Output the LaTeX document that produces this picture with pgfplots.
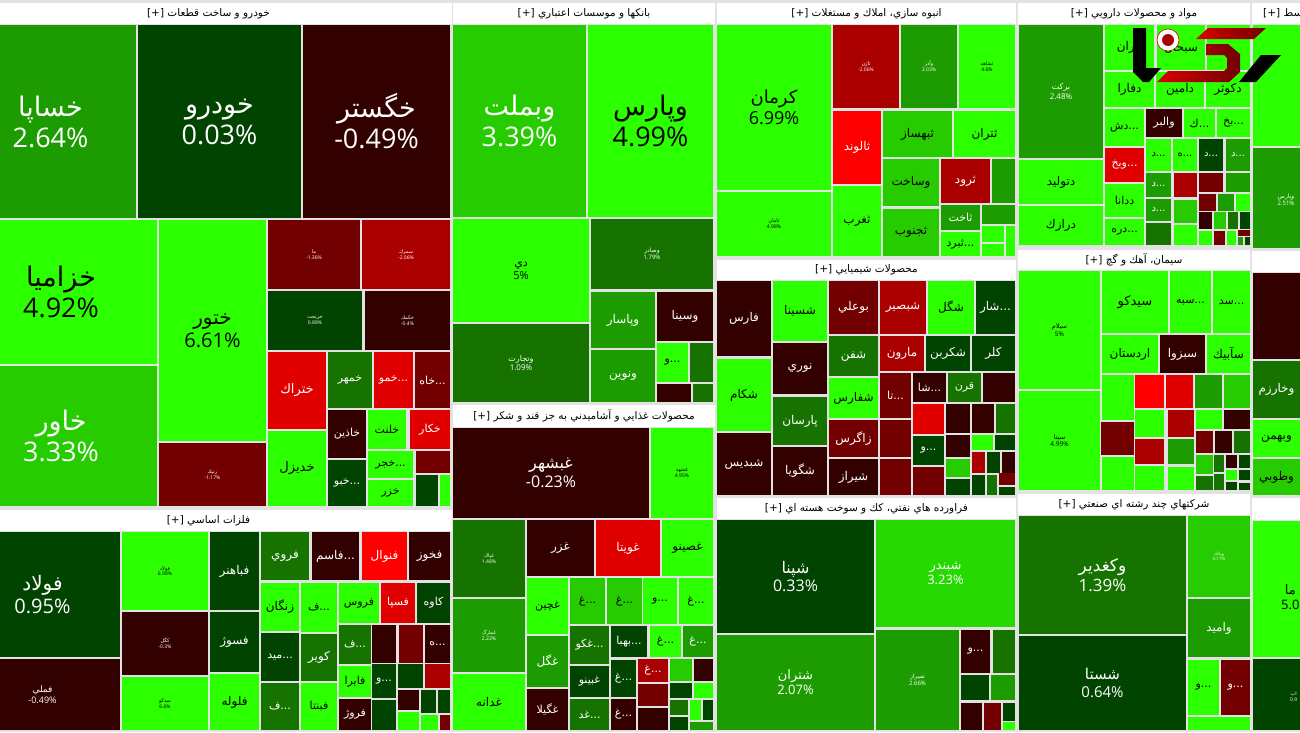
\documentclass[border=0pt]{standalone}
\usepackage{fontspec}
\usepackage{pgfplots}
\pgfplotsset{compat=1.18}
\TeXXeTstate=1
\setmainfont{Open Sans}
\newfontfamily\arabicfont[Script=Arabic]{DejaVu Sans}
\definecolor{ga}{HTML}{2BFF00}
\definecolor{gb}{HTML}{26CC00}
\definecolor{gf}{HTML}{26D900}
\definecolor{gc}{HTML}{1C9C00}
\definecolor{gd}{HTML}{167300}
\definecolor{ge}{HTML}{004400}
\definecolor{r1}{HTML}{330000}
\definecolor{r2}{HTML}{720000}
\definecolor{r3}{HTML}{AA0000}
\definecolor{r4}{HTML}{E00000}
\definecolor{r5}{HTML}{FF0000}
\definecolor{gap}{HTML}{E2E2E2}
\newcommand{\ar}[1]{{\arabicfont\beginR #1\endR}}
% plain cell: x0 y0 x1 y1 colour
\newcommand{\rc}[5]{\addplot[forget plot,fill=#5,draw=none] coordinates {(#1,#2)(#3,#2)(#3,#4)(#1,#4)} -- cycle;}
% cell with label: x0 y0 x1 y1 colour size textcolour text
\newcommand{\rl}[8]{\rc{#1}{#2}{#3}{#4}{#5}
  \node[align=center,inner sep=0pt,text=#7,font=\fontsize{#6}{#6}\selectfont\setlength{\baselineskip}{1.15em}]
    at (axis cs:{(#1+#3)/2},{(#2+#4)/2}) {#8};}
% sector header
\newcommand{\hd}[5]{\rc{#1}{#2}{#3}{#4}{white}
  \node[inner sep=0pt,text=black,font=\fontsize{10.5}{12}\selectfont]
    at (axis cs:{(#1+#3)/2},{(#2+#4)/2}) {{\arabicfont #5}};}
\begin{document}
\begin{tikzpicture}
\begin{axis}[
  scale only axis, width=1300pt, height=732pt,
  xmin=0, xmax=1300, ymin=0, ymax=732, y dir=reverse,
  hide axis, clip=true,
]
\rc{0}{0}{1300}{732}{gap}
% khodro, the left column runs past the edge of the page
\hd{-35}{3}{452}{24}{\beginR خودرو و ساخت قطعات \beginL[+]\endL\endR}
\rl{-35}{25}{136}{218}{gc}{27}{white}{\ar{خساپا}\\2.64\%}
\rl{138}{25}{301}{218}{ge}{27}{white}{\ar{خودرو}\\0.03\%}
\rl{303}{25}{450}{218}{r1}{27}{white}{\ar{خگستر}\\-0.49\%}
\rl{-35}{220}{157}{364}{ga}{27}{black}{\ar{خزاميا}\\4.92\%}
\rl{-35}{366}{157}{506}{gb}{27}{white}{\ar{خاور}\\3.33\%}
\rl{159}{220}{266}{441}{ga}{20}{black}{\ar{ختور}\\6.61\%}
\rl{159}{443}{266}{506}{r2}{5}{white}{\ar{رنيك}\\-1.17\%}
\rl{268}{220}{360}{289}{r2}{5}{white}{\ar{ما}\\-1.36\%}
\rl{362}{220}{450}{289}{r3}{5}{white}{\ar{سمرك}\\-2.06\%}
\rl{268}{291}{362}{350}{ge}{5}{white}{\ar{خريخت}\\0.88\%}
\rl{365}{291}{450}{350}{r1}{5}{white}{\ar{خكمك}\\-0.4\%}
\rl{268}{352}{326}{429}{r4}{13}{white}{\ar{ختراك}}
\rl{328}{352}{372}{408}{gd}{11}{white}{\ar{خمهر}}
\rl{374}{352}{413}{408}{r4}{11}{white}{\ar{...خمو}}
\rl{415}{352}{450}{408}{r2}{11}{white}{\ar{...خاه}}
\rl{268}{431}{326}{506}{ga}{13}{black}{\ar{خديزل}}
\rl{328}{410}{366}{458}{r1}{11}{white}{\ar{خاذين}}
\rl{328}{460}{366}{506}{ge}{11}{white}{\ar{...خبو}}
\rl{368}{410}{406}{449}{ga}{11}{black}{\ar{خلنت}}
\rl{410}{410}{450}{449}{r4}{11}{white}{\ar{خكار}}
\rl{368}{451}{413}{478}{ga}{11}{black}{\ar{...خجر}}
\rc{416}{451}{450}{473}{r2}
\rl{368}{480}{413}{506}{ga}{11}{black}{\ar{خزر}}
\rc{416}{475}{438}{506}{ge}
\rc{440}{475}{450}{506}{ga}
% felezat
\hd{-35}{510}{452}{531}{\beginR فلزات اساسي \beginL[+]\endL\endR}
\rl{-35}{532}{120}{657}{ge}{20}{white}{\ar{فولاد}\\0.95\%}
\rl{-35}{659}{120}{730}{r1}{9}{white}{\ar{فملي}\\-0.49\%}
\rl{122}{532}{208}{610}{ga}{5}{black}{\ar{فولاد}\\6.98\%}
\rl{122}{612}{208}{675}{r1}{5}{white}{\ar{كگل}\\-0.3\%}
\rl{122}{677}{208}{730}{ga}{5}{black}{\ar{ميدكو}\\6.6\%}
\rl{210}{532}{259}{610}{ge}{12}{white}{\ar{فباهنر}}
\rl{210}{612}{259}{672}{ge}{12}{white}{\ar{فسوژ}}
\rl{210}{674}{259}{730}{ga}{12}{black}{\ar{فلوله}}
\rl{261}{532}{309}{580}{gd}{12}{white}{\ar{فروي}}
\rl{312}{532}{359}{580}{r1}{12}{white}{\ar{...فاسم}}
\rl{362}{532}{407}{580}{r5}{12}{white}{\ar{فنوال}}
\rl{409}{532}{450}{580}{r1}{12}{white}{\ar{فخوز}}
\rl{261}{583}{299}{631}{ga}{12}{black}{\ar{زنگان}}
\rl{301}{583}{337}{632}{ga}{11}{black}{\ar{...ف}}
\rl{339}{583}{379}{623}{ga}{11}{black}{\ar{فروس}}
\rl{381}{583}{415}{623}{r4}{11}{white}{\ar{فسپا}}
\rl{417}{583}{450}{623}{ge}{11}{white}{\ar{كاوه}}
\rl{261}{633}{299}{681}{ge}{11}{white}{\ar{...ميد}}
\rl{301}{634}{337}{681}{gd}{12}{white}{\ar{كوير}}
\rl{261}{683}{299}{730}{gd}{11}{white}{\ar{...ف}}
\rl{301}{683}{337}{730}{ga}{11}{black}{\ar{فبنتا}}
\rl{339}{625}{371}{664}{gd}{11}{white}{\ar{...ف}}
\rc{372}{625}{396}{663}{r1}
\rc{399}{625}{423}{663}{r2}
\rl{425}{625}{450}{663}{r1}{11}{white}{\ar{...ه}}
\rl{339}{666}{371}{697}{ga}{11}{black}{\ar{فايرا}}
\rl{372}{664}{396}{698}{ge}{11}{white}{\ar{...و}}
\rc{398}{664}{423}{688}{ge}
\rc{425}{664}{450}{688}{r3}
\rl{339}{699}{371}{730}{r1}{11}{white}{\ar{فروژ}}
\rc{372}{700}{396}{730}{ge}
\rc{398}{690}{419}{710}{r1}
\rc{398}{712}{419}{730}{ga}
\rc{421}{690}{436}{713}{ge}
\rc{438}{690}{450}{713}{ge}
\rc{421}{715}{438}{730}{ga}
\rc{440}{715}{450}{730}{r2}
% banks
\hd{453}{3}{715}{24}{\beginR بانكها و موسسات اعتباري \beginL[+]\endL\endR}
\rl{453}{25}{586}{217}{gb}{27}{white}{\ar{وبملت}\\3.39\%}
\rl{588}{25}{713}{217}{ga}{27}{black}{\ar{وپارس}\\4.99\%}
\rl{453}{219}{589}{322}{ga}{11}{black}{\ar{دي}\\5\%}
\rl{453}{324}{589}{402}{gd}{8}{white}{\ar{وتجارت}\\1.09\%}
\rl{591}{219}{713}{289}{gd}{6}{white}{\ar{وصادر}\\1.79\%}
\rl{591}{292}{655}{348}{gc}{12}{white}{\ar{وپاسار}}
\rl{591}{350}{655}{402}{gc}{12}{white}{\ar{ونوين}}
\rl{657}{292}{713}{341}{r1}{12}{white}{\ar{وسينا}}
\rl{657}{343}{688}{382}{ga}{11}{black}{\ar{...و}}
\rc{690}{343}{713}{382}{gd}
\rc{657}{384}{691}{402}{r1}
\rc{693}{384}{713}{402}{gd}
% ghaza
\hd{453}{405}{715}{427}{\beginR محصولات غذايي و آشاميدني به جز قند و شكر \beginL[+]\endL\endR}
\rl{453}{428}{649}{518}{r1}{16}{white}{\ar{غبشهر}\\-0.23\%}
\rl{651}{428}{713}{518}{ga}{5}{black}{\ar{غشهد}\\4.95\%}
\rl{453}{520}{525}{597}{gd}{5}{white}{\ar{غپاك}\\1.48\%}
\rl{453}{599}{525}{672}{gc}{5}{white}{\ar{غمارگ}\\2.22\%}
\rl{453}{674}{525}{730}{ga}{12}{black}{\ar{غدانه}}
\rl{527}{520}{594}{576}{r1}{12}{white}{\ar{غزر}}
\rl{596}{520}{660}{576}{r4}{12}{white}{\ar{غويتا}}
\rl{662}{520}{713}{576}{ga}{12}{black}{\ar{غصينو}}
\rl{527}{578}{568}{634}{ga}{11}{black}{\ar{غچين}}
\rl{527}{636}{568}{687}{gc}{12}{white}{\ar{غگل}}
\rl{527}{689}{568}{730}{r1}{11}{white}{\ar{غگيلا}}
\rl{570}{578}{605}{624}{gb}{11}{black}{\ar{...غ}}
\rl{607}{578}{642}{624}{gb}{11}{black}{\ar{...غ}}
\rl{643}{578}{677}{624}{ga}{11}{black}{\ar{...و}}
\rl{679}{578}{713}{624}{ga}{11}{black}{\ar{...غ}}
\rl{570}{626}{609}{664}{gd}{11}{white}{\ar{...غكو}}
\rl{611}{626}{647}{657}{ge}{11}{white}{\ar{...بهبا}}
\rl{650}{626}{681}{657}{ga}{11}{black}{\ar{...غ}}
\rl{683}{626}{713}{657}{gc}{11}{white}{\ar{...غ}}
\rl{570}{666}{609}{697}{ge}{11}{white}{\ar{غبينو}}
\rl{570}{699}{609}{730}{gd}{11}{white}{\ar{...غد}}
\rl{611}{660}{636}{697}{ge}{11}{white}{\ar{...غ}}
\rl{611}{699}{636}{730}{r1}{11}{white}{\ar{...غ}}
\rl{638}{659}{668}{682}{r3}{11}{white}{\ar{...غ}}
\rc{638}{684}{668}{706}{r2}
\rc{638}{708}{668}{730}{r1}
\rc{670}{659}{692}{681}{gb}
\rc{694}{659}{713}{681}{r1}
\rc{670}{683}{692}{698}{ge}
\rc{694}{683}{713}{698}{ga}
\rc{670}{700}{688}{715}{gd}
\rc{670}{717}{688}{730}{ge}
\rc{690}{700}{701}{720}{ga}
\rc{703}{700}{713}{720}{ge}
\rc{690}{722}{713}{730}{gc}
% anbooh
\hd{717}{3}{1016}{24}{\beginR انبوه سازي، املاك و مستغلات \beginL[+]\endL\endR}
\rl{717}{25}{831}{190}{ga}{18}{black}{\ar{كرمان}\\6.99\%}
\rl{717}{192}{831}{256}{ga}{5}{black}{\ar{ثامان}\\4.98\%}
\rl{833}{25}{899}{108}{r3}{5}{white}{\ar{ثاژن}\\-2.06\%}
\rl{901}{25}{957}{108}{gc}{5}{white}{\ar{وآذر}\\3.03\%}
\rl{959}{25}{1015}{108}{ga}{5}{black}{\ar{ثشاهد}\\4.6\%}
\rl{833}{111}{881}{184}{r5}{12}{white}{\ar{ثالوند}}
\rl{833}{186}{881}{256}{ga}{12}{black}{\ar{ثغرب}}
\rl{883}{111}{952}{157}{gb}{12}{black}{\ar{ثبهساز}}
\rl{954}{111}{1015}{157}{ga}{12}{black}{\ar{ثتران}}
\rl{883}{159}{939}{206}{gb}{12}{black}{\ar{وساخت}}
\rl{883}{209}{939}{256}{gb}{12}{black}{\ar{ثجنوب}}
\rl{941}{159}{990}{203}{r3}{12}{white}{\ar{ثرود}}
\rc{992}{159}{1015}{203}{gc}
\rl{941}{205}{980}{230}{gc}{11}{white}{\ar{ثاخت}}
\rc{982}{205}{1015}{224}{gc}
\rl{941}{232}{980}{256}{ga}{11}{black}{\ar{...ثبرد}}
\rc{982}{226}{1004}{242}{ga}
\rc{982}{244}{1004}{256}{ga}
\rc{1006}{226}{1015}{256}{ga}
% shimi
\hd{717}{260}{1016}{280}{\beginR محصولات شيميايي \beginL[+]\endL\endR}
\rl{717}{281}{771}{356}{r1}{12}{white}{\ar{فارس}}
\rl{717}{359}{771}{431}{ga}{12}{black}{\ar{شكام}}
\rl{717}{433}{771}{495}{r1}{12}{white}{\ar{شبديس}}
\rl{773}{281}{827}{341}{ga}{12}{black}{\ar{شسينا}}
\rl{773}{343}{827}{394}{r1}{12}{white}{\ar{نوري}}
\rl{773}{397}{827}{445}{gd}{12}{white}{\ar{پارسان}}
\rl{773}{447}{827}{495}{r1}{12}{white}{\ar{شگويا}}
\rl{829}{281}{878}{334}{r2}{12}{white}{\ar{بوعلي}}
\rl{829}{336}{878}{376}{gd}{12}{white}{\ar{شفن}}
\rl{829}{378}{878}{418}{ga}{12}{black}{\ar{شفارس}}
\rl{829}{420}{878}{457}{r2}{12}{white}{\ar{زاگرس}}
\rl{829}{459}{878}{495}{r1}{12}{white}{\ar{شيراز}}
\rl{880}{281}{926}{334}{r3}{12}{white}{\ar{شبصير}}
\rl{928}{281}{974}{334}{ga}{12}{black}{\ar{شگل}}
\rl{976}{281}{1015}{334}{ge}{12}{white}{\ar{...شار}}
\rl{880}{336}{924}{371}{r3}{12}{white}{\ar{مارون}}
\rl{926}{336}{970}{371}{ge}{12}{white}{\ar{شكربن}}
\rl{972}{336}{1015}{371}{ge}{12}{white}{\ar{كلر}}
\rl{880}{373}{911}{418}{r2}{11}{white}{\ar{...تا}}
\rc{880}{420}{911}{457}{r2}
\rc{880}{459}{911}{495}{r2}
\rl{913}{373}{946}{402}{r1}{11}{white}{\ar{...شا}}
\rl{948}{373}{981}{402}{gd}{11}{white}{\ar{قرن}}
\rc{983}{373}{1015}{402}{r1}
\rc{913}{404}{944}{434}{r4}
\rc{946}{404}{970}{433}{r1}
\rc{972}{404}{994}{433}{r1}
\rc{996}{404}{1015}{433}{gd}
\rl{913}{436}{944}{465}{ge}{11}{white}{\ar{...و}}
\rc{913}{467}{944}{495}{r2}
\rc{946}{435}{970}{457}{r1}
\rc{972}{435}{993}{450}{ga}
\rc{995}{435}{1015}{450}{ge}
\rc{946}{459}{970}{477}{gb}
\rc{946}{479}{970}{495}{ge}
\rc{972}{452}{985}{473}{r3}
\rc{987}{452}{1000}{473}{ge}
\rc{1002}{452}{1015}{473}{r1}
\rc{972}{475}{985}{495}{ge}
\rc{987}{475}{997}{495}{gd}
\rc{999}{473}{1015}{485}{r2}
\rc{999}{487}{1015}{495}{ge}
% farvardeh
\hd{717}{498}{1016}{519}{\beginR فراورده هاي نفتي، كك و سوخت هسته اي \beginL[+]\endL\endR}
\rl{717}{520}{874}{633}{ge}{16}{white}{\ar{شپنا}\\0.33\%}
\rl{717}{635}{874}{730}{gc}{13}{white}{\ar{شتران}\\2.07\%}
\rl{876}{520}{1015}{627}{gf}{13}{white}{\ar{شبندر}\\3.23\%}
\rl{876}{630}{959}{730}{gc}{6}{white}{\ar{شيراز}\\2.66\%}
\rl{961}{630}{990}{673}{r1}{11}{white}{\ar{...و}}
\rc{993}{630}{1015}{673}{gd}
\rc{961}{675}{989}{700}{ge}
\rc{991}{675}{1015}{700}{gc}
\rc{961}{703}{982}{730}{r1}
\rc{984}{703}{1001}{730}{r2}
\rc{1003}{703}{1015}{721}{ge}
\rc{1003}{722}{1015}{730}{ga}
% darou
\hd{1018}{3}{1250}{24}{\beginR مواد و محصولات دارويي \beginL[+]\endL\endR}
\rl{1019}{25}{1103}{158}{gc}{8}{white}{\ar{بركت}\\2.48\%}
\rl{1019}{160}{1103}{204}{ga}{12}{black}{\ar{دتوليد}}
\rl{1019}{206}{1103}{245}{ga}{12}{black}{\ar{درازك}}
\rl{1105}{25}{1154}{70}{ga}{12}{black}{\ar{ايران}}
\rl{1157}{25}{1205}{70}{ga}{12}{black}{\ar{سبحان}}
\rc{1207}{25}{1250}{70}{ga}
\rl{1105}{72}{1154}{107}{ga}{12}{black}{\ar{دفارا}}
\rl{1156}{72}{1204}{107}{ga}{12}{black}{\ar{دامين}}
\rl{1206}{72}{1250}{107}{ga}{12}{black}{\ar{دكوثر}}
\rl{1105}{109}{1144}{146}{ga}{11}{black}{\ar{...دش}}
\rl{1146}{109}{1182}{137}{r1}{11}{white}{\ar{والبر}}
\rl{1184}{109}{1215}{137}{ga}{11}{black}{\ar{...ك}}
\rl{1217}{109}{1250}{137}{ga}{11}{black}{\ar{...بخ}}
\rl{1105}{148}{1144}{182}{r4}{11}{white}{\ar{...وبخ}}
\rl{1105}{184}{1144}{217}{ga}{11}{black}{\ar{ددانا}}
\rl{1105}{219}{1144}{245}{ga}{11}{black}{\ar{...دره}}
\rl{1146}{139}{1171}{171}{ga}{10}{black}{\ar{...د}}
\rl{1173}{139}{1197}{171}{ga}{10}{black}{\ar{...ه}}
\rl{1199}{139}{1223}{171}{ge}{10}{white}{\ar{...د}}
\rl{1226}{139}{1250}{171}{gc}{10}{white}{\ar{...د}}
\rl{1146}{173}{1171}{197}{gc}{10}{white}{\ar{...د}}
\rc{1174}{173}{1197}{197}{r3}
\rc{1199}{173}{1223}{192}{r2}
\rc{1226}{173}{1250}{192}{gc}
\rl{1146}{199}{1171}{221}{gc}{10}{white}{\ar{...د}}
\rc{1174}{200}{1197}{223}{gb}
\rc{1199}{194}{1216}{211}{r2}
\rc{1218}{194}{1234}{211}{gc}
\rc{1236}{194}{1250}{211}{ga}
\rc{1146}{223}{1171}{245}{gd}
\rc{1174}{225}{1197}{245}{ga}
\rc{1199}{212}{1212}{229}{r1}
\rc{1214}{212}{1226}{229}{gb}
\rc{1228}{212}{1238}{229}{gd}
\rc{1240}{212}{1250}{229}{ge}
\rc{1199}{231}{1212}{245}{ga}
\rc{1214}{231}{1225}{245}{r2}
\rc{1227}{231}{1236}{245}{ga}
\rc{1238}{230}{1250}{236}{r2}
\rc{1238}{237}{1243}{245}{gc}
\rc{1245}{237}{1250}{245}{ge}
% siman
\hd{1018}{250}{1250}{270}{\beginR سيمان، آهك و گچ \beginL[+]\endL\endR}
\rl{1019}{271}{1100}{389}{ga}{6.5}{black}{\ar{سيلام}\\5\%}
\rl{1019}{391}{1100}{490}{ga}{6.5}{black}{\ar{سپتا}\\4.99\%}
\rl{1102}{271}{1168}{333}{ga}{13}{black}{\ar{سيدكو}}
\rl{1170}{271}{1211}{333}{ga}{11}{black}{\ar{...سبه}}
\rl{1213}{271}{1250}{333}{ga}{11}{black}{\ar{...سد}}
\rl{1102}{335}{1158}{373}{ga}{12}{black}{\ar{اردستان}}
\rl{1160}{335}{1205}{373}{r1}{12}{white}{\ar{سبزوا}}
\rl{1207}{335}{1250}{373}{ga}{12}{black}{\ar{سآبيك}}
\rc{1102}{375}{1134}{420}{ga}
\rc{1135}{375}{1164}{408}{r5}
\rc{1166}{375}{1193}{408}{r4}
\rc{1195}{375}{1222}{408}{gc}
\rc{1224}{375}{1250}{408}{gb}
\rc{1101}{422}{1134}{455}{r2}
\rc{1102}{457}{1134}{490}{ga}
\rc{1135}{410}{1164}{437}{ga}
\rc{1135}{439}{1164}{464}{r3}
\rc{1135}{466}{1164}{490}{ga}
\rc{1168}{410}{1194}{437}{r3}
\rc{1168}{439}{1194}{464}{gc}
\rc{1168}{467}{1194}{490}{ga}
\rc{1196}{410}{1222}{429}{ga}
\rc{1224}{410}{1250}{429}{r1}
\rc{1196}{431}{1213}{453}{r2}
\rc{1215}{431}{1232}{453}{r1}
\rc{1234}{431}{1250}{453}{gd}
\rc{1196}{455}{1213}{474}{gb}
\rc{1214}{455}{1224}{472}{gd}
\rc{1226}{455}{1237}{468}{r1}
\rc{1239}{455}{1250}{468}{ge}
\rc{1196}{476}{1213}{490}{gd}
\rc{1214}{474}{1224}{490}{gd}
\rc{1226}{470}{1237}{480}{ga}
\rc{1239}{470}{1250}{480}{ge}
\rc{1226}{482}{1237}{490}{ge}
\rc{1239}{483}{1250}{490}{ge}
% chand reshte
\hd{1018}{494}{1250}{515}{\beginR شركتهاي چند رشته اي صنعتي \beginL[+]\endL\endR}
\rl{1019}{516}{1186}{634}{gd}{17}{white}{\ar{وكغدير}\\1.39\%}
\rl{1019}{636}{1186}{730}{ge}{15}{white}{\ar{شستا}\\0.64\%}
\rl{1188}{516}{1250}{597}{gb}{4.5}{white}{\ar{وبانك}\\3.17\%}
\rl{1188}{599}{1250}{657}{gc}{12}{white}{\ar{واميد}}
\rl{1188}{660}{1219}{715}{ga}{11}{black}{\ar{...و}}
\rl{1221}{660}{1250}{715}{r2}{11}{white}{\ar{...و}}
\rc{1188}{717}{1250}{730}{ga}
% right edge, cut off by the page
\rc{1252}{3}{1300}{24}{white}
\node[inner sep=0pt,text=black,font=\fontsize{10.5}{12}\selectfont,anchor=west] at (axis cs:1263,14) {{\arabicfont\beginR واسط \beginL[+]\endL\endR}};
\rc{1253}{25}{1300}{146}{ga}
\rc{1253}{148}{1300}{248}{gc}
\node[align=center,inner sep=0pt,text=white,font=\fontsize{6}{7}\selectfont] at (axis cs:1286,200) {\ar{وپارس}\\2.51\%};
\rc{1252}{251}{1300}{272}{white}
\rc{1253}{273}{1300}{359}{r1}
\rl{1253}{361}{1300}{418}{gd}{12}{white}{\ar{وخارزم}}
\rl{1253}{420}{1300}{457}{ga}{12}{black}{\ar{وبهمن}}
\rl{1253}{459}{1300}{495}{gb}{12}{black}{\ar{وطوبي}}
\rc{1252}{498}{1300}{520}{white}
\rc{1253}{521}{1300}{657}{ga}
\node[align=center,inner sep=0pt,text=black,font=\fontsize{13}{15}\selectfont,anchor=west] at (axis cs:1281,597) {\ar{ما}\\5.0};
\rc{1253}{659}{1300}{730}{ge}
\node[align=center,inner sep=0pt,text=white,font=\fontsize{5}{6}\selectfont,anchor=west] at (axis cs:1290,697) {\ar{اب}\\0.9};
% logo
\addplot[forget plot,fill=black,draw=none] coordinates {(1133,28)(1146,28)(1146,68)(1161,68)(1149,82)(1143,82)(1133,72)} -- cycle;
\addplot[forget plot,fill=black,draw=none] coordinates {(1261,55)(1281,55)(1256,82)(1239,82)} -- cycle;
\addplot[forget plot,left color=red!85!black,right color=r2,draw=none] coordinates {(1208,28)(1266,28)(1254,39)(1196,39)} -- cycle;
\addplot[forget plot,left color=red!85!black,right color=r2,draw=none] coordinates {(1206,44)(1228,44)(1240,54)(1240,72)(1229,82)(1157,82)(1168,71)(1224,71)(1227,68)(1227,58)(1224,55)(1206,55)} -- cycle;
\node[circle,fill=white,draw=r4,line width=0.6pt,minimum size=22pt,inner sep=0pt] at (axis cs:1168,40) {};
\node[circle,fill=r3,minimum size=12pt,inner sep=0pt] at (axis cs:1168,40) {};
\end{axis}
\end{tikzpicture}
\end{document}
